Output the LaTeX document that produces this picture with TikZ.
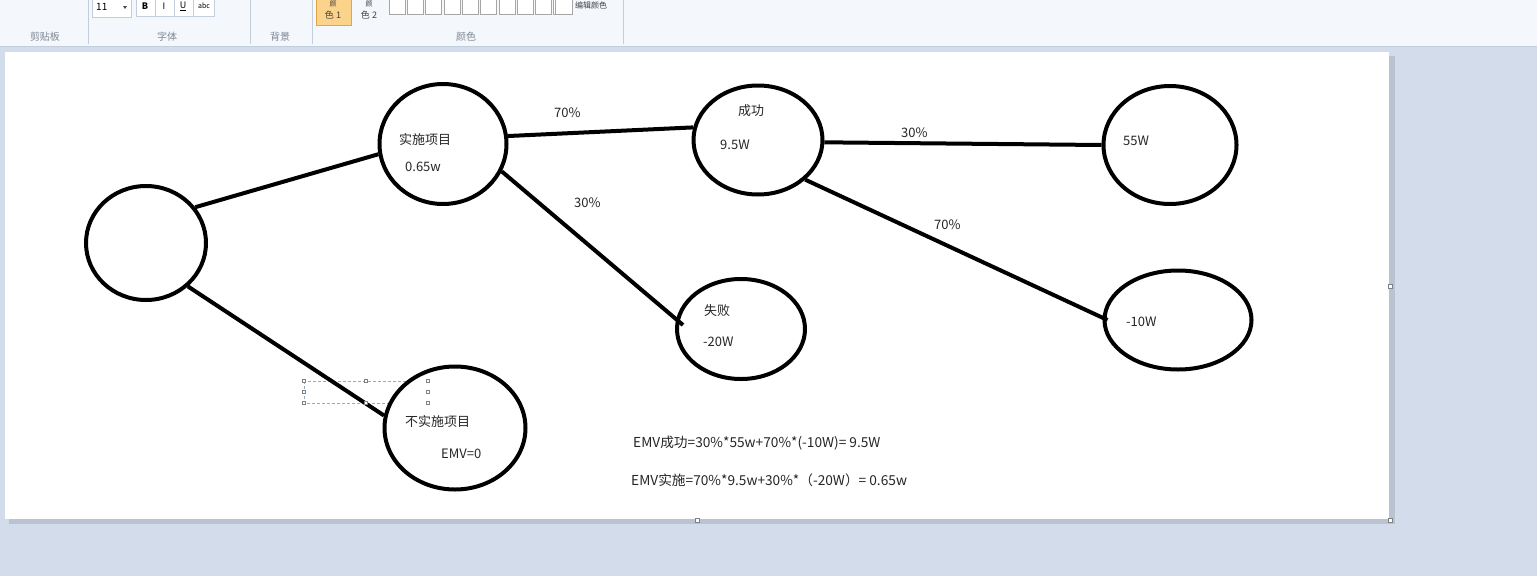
\documentclass[tikz,border=0pt]{standalone}
\usepackage{fontspec}
\setmainfont{Noto Sans CJK SC}
\usetikzlibrary{shapes.geometric,calc}
\definecolor{bgblue}{HTML}{D3DCEA}
\definecolor{barbg}{HTML}{F4F7FB}
\definecolor{barline}{HTML}{C3CEDC}
\definecolor{grouptxt}{HTML}{7D8896}
\definecolor{txt}{HTML}{262626}
\definecolor{selc}{HTML}{9AAAC2}
\definecolor{shadowc}{HTML}{B9C3D1}
\definecolor{orangefill}{HTML}{FBD38A}
\definecolor{orangeline}{HTML}{E6A445}
\begin{document}
\begin{tikzpicture}[x=1pt,y=-1pt,
  tree/.style={draw=black, line width=4pt, ellipse, inner sep=0pt, fill=white},
  conn/.style={draw=black, line width=4pt},
  lbl/.style={font=\fontsize{13}{15}\selectfont, text=txt, inner sep=0pt, anchor=west},
  formula/.style={font=\fontsize{13.7}{16}\selectfont, text=txt, inner sep=0pt, anchor=west},
  grp/.style={font=\fontsize{10}{12}\selectfont, text=grouptxt, inner sep=0pt},
  tbtxt/.style={font=\fontsize{9}{10}\selectfont, text=black!75, inner sep=0pt},
  handle/.style={draw=gray, fill=white, line width=0.6pt, minimum size=4pt, inner sep=0pt},
  sep/.style={draw=barline, line width=0.8pt},
  swatch/.style={draw=gray!70, fill=white, line width=0.6pt}
]
\useasboundingbox (0,0) rectangle (1537,576);
% backgrounds
\fill[bgblue] (0,0) rectangle (1537,576);
\fill[barbg] (0,0) rectangle (1537,46);
\draw[barline, line width=1pt] (0,46) -- (1537,46);
\fill[shadowc] (9,56) rectangle (1395,524);
\fill[white] (5,52) rectangle (1389,519);
% toolbar
\draw[sep] (88,0) -- (88,44);
\draw[sep] (250,0) -- (250,44);
\draw[sep] (312,0) -- (312,44);
\draw[sep] (623,0) -- (623,44);
\node[grp] (g1) at (45,37) {剪贴板};
\node[grp] (g2) at (167,37) {字体};
\node[grp] (g3) at (280,37) {背景};
\node[grp] (g4) at (466,37) {颜色};
\draw[barline, fill=white] (92,-2) rectangle (131,17);
\node[font=\fontsize{10}{12}\selectfont, inner sep=0pt, anchor=west] (fs) at (96,7) {11};
\fill[black!70] (123,6) -- (127,6) -- (125,9) -- cycle;
\draw[barline, fill=white] (136,-2) rectangle (214,16);
\draw[barline] (155,-2) -- (155,16) (174,-2) -- (174,16) (193,-2) -- (193,16);
\node[font=\bfseries\fontsize{9}{10}\selectfont, inner sep=0pt] (bb) at (145,6) {B};
\node[font=\itshape\fontsize{9}{10}\selectfont, inner sep=0pt] (bi) at (164,6) {I};
\node[font=\fontsize{9}{10}\selectfont, inner sep=0pt] (bu) at (183,6) {\underline{U}};
\node[font=\fontsize{7}{8}\selectfont, inner sep=0pt] (bs) at (204,6) {abc};
\draw[orangeline, fill=orangefill] (316,-3) rectangle (351,25);
\node[tbtxt, font=\fontsize{7}{8}\selectfont] (c1a) at (333,4) {颜};
\node[tbtxt] (c1b) at (333,15) {色 1};
\node[tbtxt, font=\fontsize{7}{8}\selectfont] (c2a) at (369,4) {颜};
\node[tbtxt] (c2b) at (369,15) {色 2};
\foreach \i in {0,...,9} {
  \draw[swatch] ({389+\i*18.3},-2) rectangle ({405+\i*18.3},14);
}
\draw[swatch] (555,-2) rectangle (572,14);
\node[tbtxt, font=\fontsize{8}{9}\selectfont, anchor=west] (edit) at (575,5) {编辑颜色};
% canvas handles
\node[handle] (h1) at (1390,286) {};
\node[handle] (h2) at (1390,520) {};
\node[handle] (h3) at (697,520) {};
% selection rectangle
\draw[selc, line width=0.8pt, dash pattern=on 3pt off 2pt] (304,381) rectangle (428,403);
% tree nodes
\node[tree, minimum width=120pt, minimum height=114pt] (r) at (146,243) {};
\node[tree, minimum width=127pt, minimum height=120pt] (a) at (443,144) {};
\node[tree, minimum width=141pt, minimum height=123pt] (n) at (455,428) {};
\node[tree, minimum width=129pt, minimum height=109pt] (s) at (758,140) {};
\node[tree, minimum width=128pt, minimum height=100pt] (f) at (741,329) {};
\node[tree, minimum width=133pt, minimum height=118pt] (w) at (1170,145) {};
\node[tree, minimum width=147pt, minimum height=99pt] (m) at (1178,320) {};
% connectors
\draw[conn] (r.36) -- (a.189);
\draw[conn] (r.-46) -- (n.170);
\draw[conn] (a.7) -- (s.169);
\draw[conn] (a.-25) -- ([shift={(8,-4)}]f.west);
\draw[conn] (s.-2) -- (w.west);
\draw[conn] (s.-40) -- ([shift={(5,0)}]m.west);
% selection handles
\foreach \hx/\hy [count=\k] in {304/381,366/381,428/381,304/392,428/392,304/403,366/403,428/403} {
  \node[handle, minimum size=3.5pt] (sh\k) at (\hx,\hy) {};
}
% labels
\node[lbl] (ta) at (399,140) {实施项目};
\node[lbl] (tav) at (405,167) {0.65w};
\node[lbl] (p1) at (554,113) {70\%};
\node[lbl] (p2) at (574,203) {30\%};
\node[lbl] (ts) at (738,111) {成功};
\node[lbl] (tsv) at (720,145) {9.5W};
\node[lbl] (p3) at (901,133) {30\%};
\node[lbl] (p4) at (934,225) {70\%};
\node[lbl] (tw) at (1123,141) {55W};
\node[lbl] (tf) at (704,311) {失败};
\node[lbl] (tfv) at (703,342) {-20W};
\node[lbl] (tm) at (1126,322) {-10W};
\node[lbl] (tn) at (405,422) {不实施项目};
\node[lbl] (tnv) at (441,454) {EMV=0};
\node[formula] (e1) at (633,443) {EMV成功=30\%*55w+70\%*(-10W)= 9.5W};
\node[formula] (e2) at (631,480) {EMV实施=70\%*9.5w+30\%*（-20W）= 0.65w};
\end{tikzpicture}
\end{document}
